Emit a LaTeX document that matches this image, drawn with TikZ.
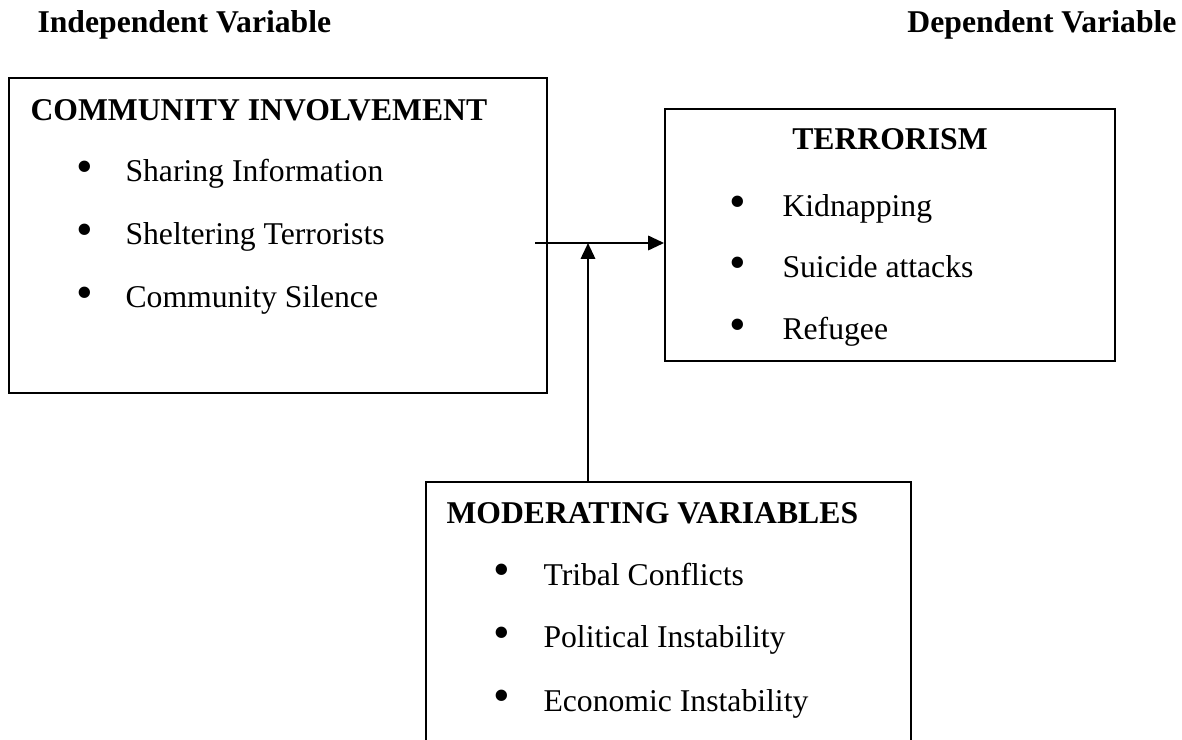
\documentclass[tikz,border=0pt]{standalone}
\usepackage{fontspec}
\setmainfont{Liberation Serif}
\usetikzlibrary{fit,arrows.meta}

\tikzset{
  box/.style={draw,line width=0.7pt,inner sep=0pt,fit={#1}},
  head/.style={font=\fontsize{12}{14}\selectfont\bfseries,inner sep=0pt},
  item/.style={font=\fontsize{12}{14}\selectfont,inner sep=0pt,anchor=base west},
  dot/.style={font=\fontsize{18}{18}\selectfont,inner sep=0pt},
}

\begin{document}
\begin{tikzpicture}[x=0.37879pt,y=-0.37879pt,>={Triangle[length=6pt,width=5.4pt]}]
\clip (0,0) rectangle (1182,740);
\node[head,anchor=base west] (indep) at (37,33) {Independent Variable};
\node[head,anchor=base east] (dep) at (1177,33) {Dependent Variable};
% boxes
\node[box={(9,78) (547,393)}] (CI) {};
\node[box={(665,109) (1115,361)}] (TR) {};
\node[box={(426,482) (911,800)}] (MV) {};
% independent
\node[head,anchor=base west] (CItitle) at (30,121) {COMMUNITY INVOLVEMENT};
\node[dot] (CIb1) at (85,172) {\textbullet};
\node[dot] (CIb2) at (85,235) {\textbullet};
\node[dot] (CIb3) at (85,298) {\textbullet};
\node[item] (CI1) at (125,182) {Sharing Information};
\node[item] (CI2) at (125,245) {Sheltering Terrorists};
\node[item] (CI3) at (125,308) {Community Silence};
% dependent
\node[head,anchor=base] (TRtitle) at (890,150) {TERRORISM};
\node[dot] (TRb1) at (738,207) {\textbullet};
\node[dot] (TRb2) at (738,268) {\textbullet};
\node[dot] (TRb3) at (738,330) {\textbullet};
\node[item] (TR1) at (782,217) {Kidnapping};
\node[item] (TR2) at (782,278) {Suicide attacks};
\node[item] (TR3) at (782,340) {Refugee};
% moderating
\node[head,anchor=base west] (MVtitle) at (446,523) {MODERATING VARIABLES};
\node[dot] (MVb1) at (502,575) {\textbullet};
\node[dot] (MVb2) at (502,638) {\textbullet};
\node[dot] (MVb3) at (502,701) {\textbullet};
\node[item] (MV1) at (543,585) {Tribal Conflicts};
\node[item] (MV2) at (543,648) {Political Instability};
\node[item] (MV3) at (543,711) {Economic Instability};
% arrows
\coordinate (start) at (535,243);
\coordinate (join) at (588,243);
\draw[->,line width=0.9pt] (start) -- (start -| TR.west);
\draw[->,line width=0.9pt] (join |- MV.north) -- (join);
\end{tikzpicture}
\end{document}
